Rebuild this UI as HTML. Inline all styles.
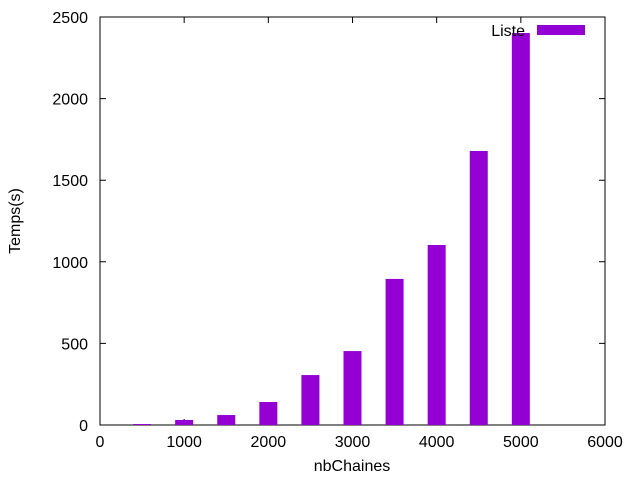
<!DOCTYPE html>
<html><head><meta charset="utf-8"><style>
body{margin:0;background:#fff;}
svg{display:block;font-family:"Liberation Sans",sans-serif;}
</style></head><body>
<svg id="chart" width="640" height="480" viewBox="0 0 640 480" xmlns="http://www.w3.org/2000/svg">
<g id="axes"></g>
<g id="bars"></g>
<text x="20" y="221" font-size="16" text-anchor="middle" transform="rotate(-90 20 221)">Temps(s)</text>
<text x="352" y="471" font-size="16" text-anchor="middle">nbChaines</text>
<g>
<text x="525" y="36" font-size="16" text-anchor="end">Liste</text>
<rect x="537" y="25" width="48" height="10" fill="#9400d3"/>
</g>
</svg>
<script>
const categories=[500,1000,1500,2000,2500,3000,3500,4000,4500,5000];
const values=[6,31,61,141,306,453,895,1103,1679,2402];
const xTicks=[0,1000,2000,3000,4000,5000,6000];
const yTicks=[0,500,1000,1500,2000,2500];
const L=100,R=605,T=17,B=425,XMAX=6000,YMAX=2500;
const xs=v=>L+v/XMAX*(R-L);
const ys=v=>B-v/YMAX*(B-T);
const NS="http://www.w3.org/2000/svg";
const axes=document.getElementById('axes'),bars=document.getElementById('bars');
function mk(tag,attrs,parent){const e=document.createElementNS(NS,tag);for(const k in attrs)e.setAttribute(k,attrs[k]);parent.appendChild(e);return e;}
const frame=mk('rect',{x:L,y:T,width:R-L,height:B-T,fill:'none',stroke:'#000','stroke-width':1},axes);


xTicks.forEach(t=>{const x=xs(t);
const l=mk('path',{d:`M${x} ${B}v-6M${x} ${T}v6`,stroke:'#000'},axes);


const tx=mk('text',{x:x,y:B+22,'font-size':16,'text-anchor':'middle'},axes);tx.textContent=t;

});
yTicks.forEach(t=>{const y=ys(t);
const l=mk('path',{d:`M${L} ${y}h6M${R} ${y}h-6`,stroke:'#000'},axes);


const tx=mk('text',{x:L-12,y:y+6,'font-size':16,'text-anchor':'end'},axes);tx.textContent=t;

});
const bw=18;
categories.forEach((c,i)=>{const x=xs(c)-bw/2,y=ys(values[i]);
const r=mk('rect',{x:x,y:y,width:bw,height:B-y,fill:'#9400d3'},bars);

});
</script>
</body></html>
